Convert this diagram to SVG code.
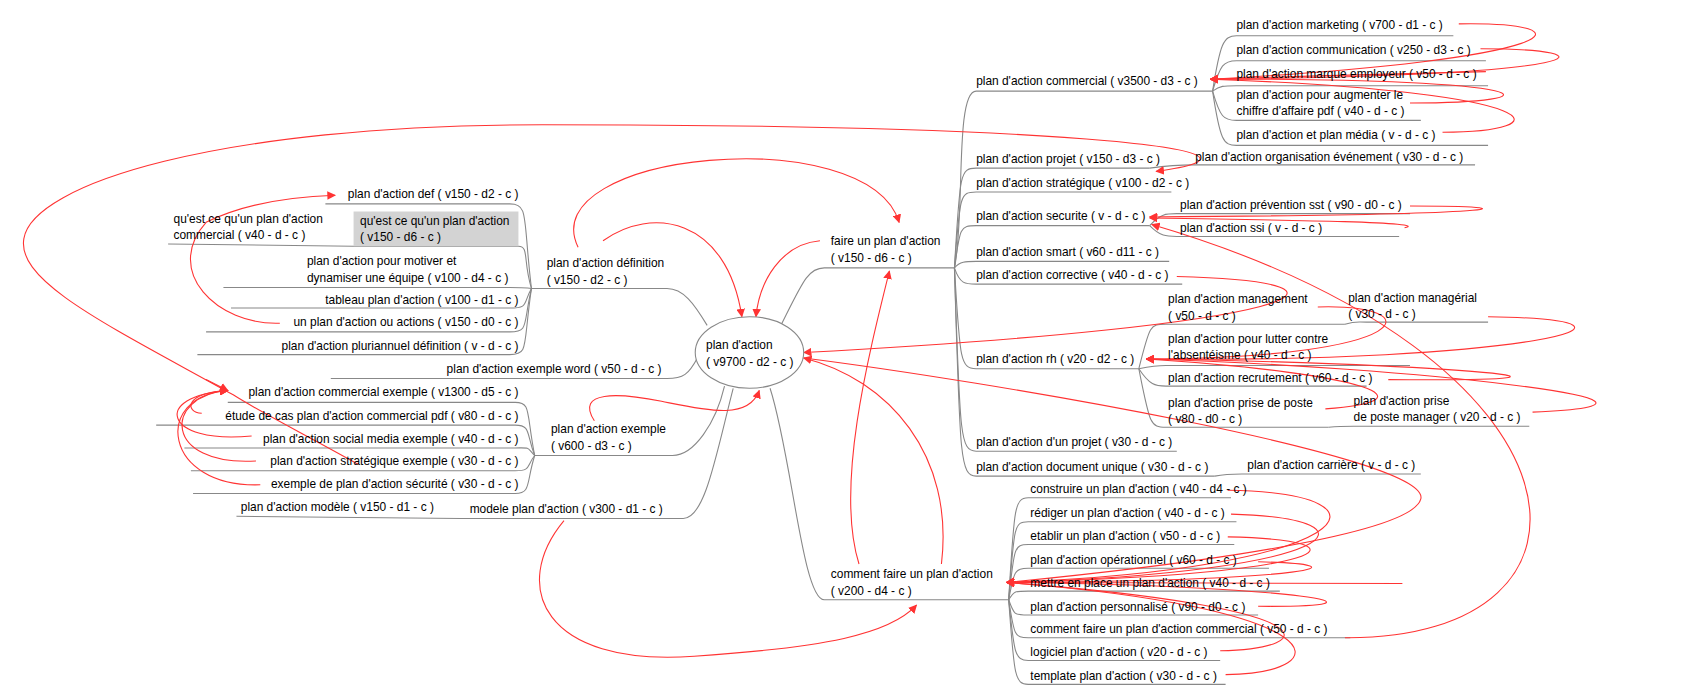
<svg xmlns="http://www.w3.org/2000/svg" width="1692" height="696" viewBox="0 0 1692 696">
<defs>
<style>
text{font-family:"Liberation Sans",Arial,sans-serif;font-size:11px;fill:#000}
.e{text-anchor:end}
.l{fill:none;stroke:#888;stroke-width:1}
.a{fill:none;stroke:#f33;stroke-width:1;marker-end:url(#ar)}
</style>
<marker id="ar" viewBox="0 0 10 10" refX="9" refY="5" markerWidth="8" markerHeight="8" orient="auto-start-reverse" markerUnits="userSpaceOnUse"><path d="M0,0L10,5L0,10z" fill="#f33"/></marker>
</defs>
<rect width="1692" height="696" fill="#fff"/>
<g transform="scale(1.0846)">
<g id="connectors">
<path class="l" d="M720,300 C740,260 745,247 760,247 L880,247"/>
<path class="l" d="M880,247 C890,200 880,84 900,84 L1118,84"/>
<path class="l" d="M880,247 C885,160 885,155 900,155 L1060,155"/>
<path class="l" d="M880,247 C885,180 885,177 900,177 L1080,177"/>
<path class="l" d="M880,247 C885,210 885,208 900,208 L1060,208"/>
<path class="l" d="M880,247 C885,241 890,241 900,241 L1078,241"/>
<path class="l" d="M880,247 C885,262 890,262 900,262 L1090,262"/>
<path class="l" d="M880,247 C885,330 885,340 900,340 L1050,340"/>
<path class="l" d="M880,247 C885,400 885,416 900,416 L1085,416"/>
<path class="l" d="M880,247 C885,420 885,439 900,439 L1120,439"/>
<path class="l" d="M1118,84 C1125,40 1128,33 1140,33 L1340,33"/>
<path class="l" d="M1118,84 C1125,60 1128,56 1140,56 L1370,56"/>
<path class="l" d="M1118,84 C1125,79 1128,79 1140,79 L1372,79"/>
<path class="l" d="M1118,84 C1125,108 1128,111 1140,111 L1310,111"/>
<path class="l" d="M1118,84 C1125,130 1128,134 1140,134 L1372,134"/>
<path class="l" d="M1060,155 C1075,153 1085,152 1100,152 L1360,152"/>
<path class="l" d="M1060,208 C1070,197 1075,197 1085,197 L1300,197"/>
<path class="l" d="M1060,208 C1070,218 1075,218 1085,218 L1290,218"/>
<path class="l" d="M1050,340 C1060,300 1060,299 1075,299 L1240,299"/>
<path class="l" d="M1240,299 C1250,296 1250,297 1260,297 L1372,297"/>
<path class="l" d="M1050,340 C1060,338 1065,337 1075,337 L1300,337"/>
<path class="l" d="M1050,340 C1060,355 1065,356 1075,356 L1260,356"/>
<path class="l" d="M1050,340 C1060,390 1060,394 1075,394 L1225,394"/>
<path class="l" d="M1225,394 C1235,393 1238,393 1248,393 L1410,393"/>
<path class="l" d="M1120,439 C1130,437 1135,437 1145,437 L1310,437"/>
<path class="l" d="M710,358 C730,420 740,553 760,553 L930,553"/>
<path class="l" d="M930,553 C935,470 935,459 948,459 L1135,459"/>
<path class="l" d="M930,553 C935,485 935,481 948,481 L1140,481"/>
<path class="l" d="M930,553 C935,505 935,502 948,502 L1138,502"/>
<path class="l" d="M930,553 C935,527 935,524 948,524 L1170,524"/>
<path class="l" d="M930,553 C935,545 935,545 948,545 L1180,545"/>
<path class="l" d="M930,553 C935,567 935,567 948,567 L1160,567"/>
<path class="l" d="M930,553 C935,585 935,588 948,588 L1245,588"/>
<path class="l" d="M930,553 C935,600 935,609 948,609 L1125,609"/>
<path class="l" d="M930,553 C935,620 935,631 948,631 L1130,631"/>
<path class="l" d="M652,300 C640,280 630,266 615,266 L490,266"/>
<path class="l" d="M490,266 C482,200 488,188 470,188 L300,188"/>
<path class="l" d="M490,266 C482,240 488,227 478,227 L326,227 L155,225"/>
<path class="l" d="M490,266 C482,265 486,265 470,265 L206,265"/>
<path class="l" d="M490,266 C482,280 488,284 470,284 L213,284"/>
<path class="l" d="M490,266 C482,300 488,306 470,306 L190,306"/>
<path class="l" d="M490,266 C482,320 488,327 470,327 L182,327"/>
<path class="l" d="M643,330 C635,345 630,349 615,349 L305,349"/>
<path class="l" d="M668,356 C660,390 640,420 620,420 L493,420"/>
<path class="l" d="M493,420 C485,380 490,371 475,371 L210,371"/>
<path class="l" d="M493,420 C485,400 490,392 475,392 L144,392"/>
<path class="l" d="M493,420 C485,412 490,413 475,413 L170,413"/>
<path class="l" d="M493,420 C485,430 490,434 475,434 L176,434"/>
<path class="l" d="M493,420 C485,445 490,455 475,455 L178,455"/>
<path class="l" d="M676,358 C660,420 650,478 630,478 L425,478 L218,476"/>
<path class="a" d="M533,228 C490,140 800,110 829,205"/>
<path class="a" d="M556,222 C600,190 670,200 684,292"/>
<path class="a" d="M756,222 C720,225 700,260 697,292"/>
<path class="a" d="M548,388 C530,360 570,362 610,370 C650,378 690,388 700,360"/>
<path class="a" d="M520,480 C470,540 500,615 640,605 C760,597 820,585 845,558"/>
<path class="a" d="M792,520 C770,450 800,330 820,250"/>
<path class="a" d="M868,520 C880,420 820,350 741,330"/>
<path class="a" d="M258,298 C200,300 150,250 190,205 C230,185 280,181 309,180"/>
<path class="a" d="M330,428 C280,400 240,380 215,364 C100,300 15,260 22,220 C30,170 200,115 500,115 C1000,115 1200,140 1066,158"/>
<path class="a" d="M190,350 C198,354 204,357 210,360"/>
<path class="a" d="M186,381 C170,380 170,362 210,360"/>
<path class="a" d="M232,402 C150,410 140,365 210,360"/>
<path class="a" d="M236,425 C150,430 150,365 210,360"/>
<path class="a" d="M240,447 C150,450 140,365 210,360"/>
<path class="a" d="M1345,22 C1470,20 1450,55 1116,73"/>
<path class="a" d="M1365,45 C1490,45 1480,70 1116,73"/>
<path class="a" d="M1370,66 C1300,68 1200,70 1116,73"/>
<path class="a" d="M1300,95 C1440,95 1430,72 1116,73"/>
<path class="a" d="M1330,122 C1440,122 1440,85 1116,73"/>
<path class="a" d="M1300,190 C1420,190 1400,198 1060,200"/>
<path class="a" d="M1295,210 C1320,205 1200,203 1060,201"/>
<path class="a" d="M1240,588 C1500,590 1480,330 1062,207"/>
<path class="a" d="M1085,255 C1280,260 1210,300 741,325"/>
<path class="a" d="M1215,283 C1320,280 1310,330 1057,331"/>
<path class="a" d="M1372,292 C1560,295 1400,335 1057,331"/>
<path class="a" d="M1280,350 C1540,352 1300,334 1057,331"/>
<path class="a" d="M1413,380 C1600,372 1300,338 1057,331"/>
<path class="a" d="M1222,377 C1320,370 1270,345 1057,331"/>
<path class="a" d="M741,330 C900,350 1320,420 1310,460 C1300,500 1000,530 928,537"/>
<path class="a" d="M1132,452 C1300,455 1250,525 928,537"/>
<path class="a" d="M1135,474 C1280,478 1240,528 928,537"/>
<path class="a" d="M1132,495 C1270,498 1230,530 928,537"/>
<path class="a" d="M1160,518 C1260,520 1220,535 928,537"/>
<path class="a" d="M1293,538 C1200,538 1000,537 928,537"/>
<path class="a" d="M1160,559 C1300,560 1200,540 928,537"/>
<path class="a" d="M1125,600 C1220,598 1230,560 928,537"/>
<path class="a" d="M1130,622 C1240,620 1230,560 928,537"/>
</g>
<g id="center"><ellipse cx="691" cy="325" rx="50" ry="33" fill="#fff" stroke="#888"/><text x="651" y="322">plan d'action</text><text x="651" y="337">( v9700 - d2 - c )</text></g>
<g id="n-faire"><text x="766" y="226">faire un plan d'action</text><text x="766" y="242">( v150 - d6 - c )</text></g>
<g id="n-comm"><text x="900" y="78">plan d'action commercial ( v3500 - d3 - c )</text></g>
<g id="n-mkt"><text x="1140" y="27">plan d'action marketing ( v700 - d1 - c )</text></g>
<g id="n-com2"><text x="1140" y="50">plan d'action communication ( v250 - d3 - c )</text></g>
<g id="n-marq"><text x="1140" y="72">plan d'action marque employeur ( v50 - d - c )</text></g>
<g id="n-aug"><text x="1140" y="91">plan d'action pour augmenter le</text><text x="1140" y="106">chiffre d'affaire pdf ( v40 - d - c )</text></g>
<g id="n-media"><text x="1140" y="128">plan d'action et plan média ( v - d - c )</text></g>
<g id="n-proj"><text x="900" y="150">plan d'action projet ( v150 - d3 - c )</text></g>
<g id="n-orga"><text x="1102" y="148">plan d'action organisation événement ( v30 - d - c )</text></g>
<g id="n-strat"><text x="900" y="172">plan d'action stratégique ( v100 - d2 - c )</text></g>
<g id="n-secu"><text x="900" y="203">plan d'action securite ( v - d - c )</text></g>
<g id="n-sst"><text x="1088" y="193">plan d'action prévention sst ( v90 - d0 - c )</text></g>
<g id="n-ssi"><text x="1088" y="214">plan d'action ssi ( v - d - c )</text></g>
<g id="n-smart"><text x="900" y="236">plan d'action smart ( v60 - d11 - c )</text></g>
<g id="n-corr"><text x="900" y="257">plan d'action corrective ( v40 - d - c )</text></g>
<g id="n-mgmt"><text x="1077" y="279">plan d'action management</text><text x="1077" y="295">( v50 - d - c )</text></g>
<g id="n-mgr"><text x="1243" y="278">plan d'action managérial</text><text x="1243" y="293">( v30 - d - c )</text></g>
<g id="n-abs"><text x="1077" y="316">plan d'action pour lutter contre</text><text x="1077" y="331">l'absentéisme ( v40 - d - c )</text></g>
<g id="n-rh"><text x="900" y="335">plan d'action rh ( v20 - d2 - c )</text></g>
<g id="n-recr"><text x="1077" y="352">plan d'action recrutement ( v60 - d - c )</text></g>
<g id="n-prise"><text x="1077" y="375">plan d'action prise de poste</text><text x="1077" y="390">( v80 - d0 - c )</text></g>
<g id="n-prise2"><text x="1248" y="373">plan d'action prise</text><text x="1248" y="388">de poste manager ( v20 - d - c )</text></g>
<g id="n-dproj"><text x="900" y="411">plan d'action d'un projet ( v30 - d - c )</text></g>
<g id="n-doc"><text x="900" y="434">plan d'action document unique ( v30 - d - c )</text></g>
<g id="n-carr"><text x="1150" y="432">plan d'action carrière ( v - d - c )</text></g>
<g id="n-cf"><text x="766" y="533">comment faire un plan d'action</text><text x="766" y="549">( v200 - d4 - c )</text></g>
<g id="n-c1"><text x="950" y="455">construire un plan d'action ( v40 - d4 - c )</text></g>
<g id="n-c2"><text x="950" y="477">rédiger un plan d'action ( v40 - d - c )</text></g>
<g id="n-c3"><text x="950" y="498">etablir un plan d'action ( v50 - d - c )</text></g>
<g id="n-c4"><text x="950" y="520">plan d'action opérationnel ( v60 - d - c )</text></g>
<g id="n-c5"><text x="950" y="541">mettre en place un plan d'action ( v40 - d - c )</text></g>
<g id="n-c6"><text x="950" y="563">plan d'action personnalisé ( v90 - d0 - c )</text></g>
<g id="n-c7"><text x="950" y="584">comment faire un plan d'action commercial ( v50 - d - c )</text></g>
<g id="n-c8"><text x="950" y="605">logiciel plan d'action ( v20 - d - c )</text></g>
<g id="n-c9"><text x="950" y="627">template plan d'action ( v30 - d - c )</text></g>
<g id="n-def"><text x="504" y="246">plan d'action définition</text><text x="504" y="262">( v150 - d2 - c )</text></g>
<g id="n-d1"><text class="e" x="478" y="183">plan d'action def ( v150 - d2 - c )</text></g>
<g id="n-d2"><rect x="326" y="195" width="152" height="32" fill="#d3d3d3"/><text x="332" y="207">qu'est ce qu'un plan d'action</text><text x="332" y="222">( v150 - d6 - c )</text></g>
<g id="n-d2a"><text x="160" y="206">qu'est ce qu'un plan d'action</text><text x="160" y="220">commercial ( v40 - d - c )</text></g>
<g id="n-d3"><text x="283" y="244">plan d'action pour motiver et</text><text x="283" y="260">dynamiser une équipe ( v100 - d4 - c )</text></g>
<g id="n-d4"><text class="e" x="478" y="280">tableau plan d'action ( v100 - d1 - c )</text></g>
<g id="n-d5"><text class="e" x="478" y="301">un plan d'action ou actions ( v150 - d0 - c )</text></g>
<g id="n-d6"><text class="e" x="478" y="323">plan d'action pluriannuel définition ( v - d - c )</text></g>
<g id="n-word"><text class="e" x="610" y="344">plan d'action exemple word ( v50 - d - c )</text></g>
<g id="n-ex"><text x="508" y="399">plan d'action exemple</text><text x="508" y="415">( v600 - d3 - c )</text></g>
<g id="n-e1"><text class="e" x="478" y="365">plan d'action commercial exemple ( v1300 - d5 - c )</text></g>
<g id="n-e2"><text class="e" x="478" y="387">étude de cas plan d'action commercial pdf ( v80 - d - c )</text></g>
<g id="n-e3"><text class="e" x="478" y="408">plan d'action social media exemple ( v40 - d - c )</text></g>
<g id="n-e4"><text class="e" x="478" y="429">plan d'action stratégique exemple ( v30 - d - c )</text></g>
<g id="n-e5"><text class="e" x="478" y="450">exemple de plan d'action sécurité ( v30 - d - c )</text></g>
<g id="n-mod"><text x="433" y="473">modele plan d'action ( v300 - d1 - c )</text></g>
<g id="n-mod1"><text x="222" y="471">plan d'action modèle ( v150 - d1 - c )</text></g>
</g>
</svg>
